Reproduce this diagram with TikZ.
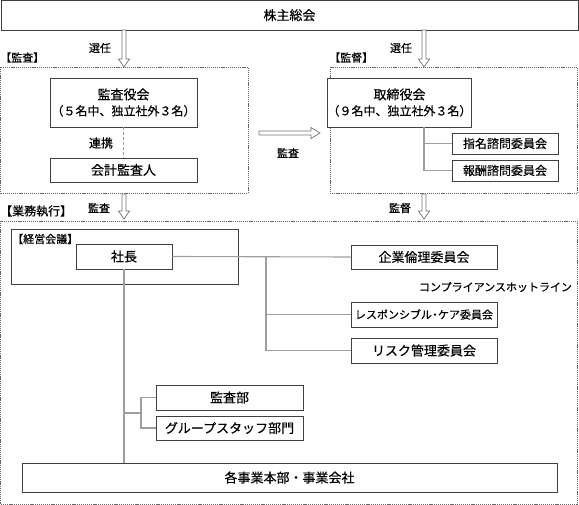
\documentclass[tikz,border=0pt]{standalone}
\usepackage{fontspec}
\setmainfont{Noto Sans CJK JP}[FakeBold=0.35]
\usetikzlibrary{calc}
\definecolor{boxc}{gray}{0.25}
\definecolor{connc}{gray}{0.62}
\definecolor{framec}{gray}{0.40}
\definecolor{arrc}{gray}{0.45}
\tikzset{
  orgbox/.style={draw=boxc, line width=0.8pt, fill=white, inner sep=0pt, align=center, font=\fontsize{13}{17}\selectfont},
  frame/.style={draw=framec, line width=0.7pt, dash pattern=on 1.2pt off 0.9pt},
  conn/.style={draw=connc, line width=1.1pt},
  lbl/.style={inner sep=0pt, font=\fontsize{11}{13}\selectfont},
  hollow/.style={draw=arrc, line width=0.7pt, fill=white, line join=miter},
}
\newcommand{\hdown}[3]{%
  \draw[hollow] ({#1-2},#2) -- ({#1-2},{#3-8}) -- ({#1-5.5},{#3-8}) -- (#1,#3) -- ({#1+5.5},{#3-8}) -- ({#1+2},{#3-8}) -- ({#1+2},#2) -- cycle;}
\begin{document}
\begin{tikzpicture}[x=1pt,y=-1pt]
\useasboundingbox (0,0) rectangle (579,505);
% dashed frames
\draw[frame] (0.5,67) rectangle (248,193);
\draw[frame] (330,67) rectangle (577.5,193);
\draw[frame] (0.5,221) rectangle (577.5,504);
% top
\node[orgbox, minimum width=577pt, minimum height=29.5pt] (soukai) at (289.5,15.2) {株主総会};
\hdown{124}{30}{67}
\hdown{424}{30}{67}
\node[lbl] (sen1) at (100,48) {選任};
\node[lbl] (sen2) at (401,48) {選任};
\node[lbl, anchor=west] (kansaL) at (0,57.5) {【監査】};
\node[lbl, anchor=west] (kantokuL) at (329,57.5) {【監督】};
% left block
\node[orgbox, minimum width=147pt, minimum height=49pt] (kansayaku) at (123.5,102.5)
  {監査役会\\[-1pt]{\fontsize{12}{15}\selectfont （５名中、独立社外３名）}};
\node[orgbox, minimum width=147pt, minimum height=24pt] (kaikei) at (123.5,170) {会計監査人};
\draw[draw=connc, line width=1.1pt, dash pattern=on 3pt off 2pt] (kansayaku.south) -- (kaikei.north);
\node[lbl, font=\fontsize{12}{14}\selectfont] (renkei) at (101,143) {連携};
% middle arrow
\draw[hollow] (259,131) -- (311,131) -- (311,127.5) -- (320,133) -- (311,138.5) -- (311,135) -- (259,135) -- cycle;
\node[lbl] (kansaM) at (288,153) {監査};
% right block
\node[orgbox, minimum width=99pt, minimum height=49pt] (torishimari) at (399.5,102.5)
  {取締役会\\[-1pt]{\fontsize{12}{15}\selectfont （９名中、独立社外３名）}};
\node[orgbox, minimum width=106pt, minimum height=21pt, font=\fontsize{12}{14}\selectfont] (shimei) at (505,143.5) {指名諮問委員会};
\node[orgbox, minimum width=106pt, minimum height=21pt, font=\fontsize{12}{14}\selectfont] (hoshu) at (505,170.5) {報酬諮問委員会};
\coordinate (t1) at (424,127);
\draw[conn] (t1) |- (hoshu.west);
\draw[conn] (t1 |- shimei.west) -- (shimei.west);
% execution
\hdown{124}{194}{219}
\hdown{424}{194}{219}
\node[lbl] (kansaB) at (99,208) {監査};
\node[lbl] (kantokuB) at (400,208) {監督};
\node[lbl, anchor=west, font=\fontsize{12}{14}\selectfont] (gyomu) at (0,211) {【業務執行】};
\node[draw=boxc, line width=0.8pt, minimum width=227pt, minimum height=55pt, inner sep=0pt] (keiei) at (124.5,256.5) {};
\node[lbl, anchor=west] (keieiL) at (12,239) {【経営会議】};
\node[orgbox, minimum width=96pt, minimum height=25pt] (shacho) at (124,256.5) {社長};
\node[orgbox, minimum width=146pt, minimum height=24pt] (kigyo) at (424,257) {企業倫理委員会};
\node[lbl] (hotline) at (495.5,287) {コンプライアンスホットライン};
\node[orgbox, minimum width=146pt, minimum height=25pt, font=\fontsize{11}{13}\selectfont] (resp) at (424,314.5) {レスポンシブル\hbox to 6pt{\hss・\hss}ケア委員会};
\node[orgbox, minimum width=146pt, minimum height=25pt] (risk) at (424,350.5) {リスク管理委員会};
\coordinate (j1) at (266,257);
\draw[conn] (shacho.east) -- (kigyo.west);
\draw[conn] (j1) |- (risk.west);
\draw[conn] (j1 |- resp.west) -- (resp.west);
\node[orgbox, minimum width=147pt, minimum height=25pt] (kansabu) at (229.5,397.5) {監査部};
\node[orgbox, minimum width=147pt, minimum height=24pt] (group) at (229.5,428) {グループスタッフ部門};
\node[orgbox, minimum width=535pt, minimum height=29pt] (kaku) at (289.5,477.5) {各事業本部・事業会社};
\draw[conn] (shacho.south) -- (shacho.south |- kaku.north);
\coordinate (j2) at (124,413);
\coordinate (j3) at (141,413);
\draw[conn] (j2) -- (j3);
\draw[conn] (kansabu.west) -| (j3) |- (group.west);
\end{tikzpicture}
\end{document}
